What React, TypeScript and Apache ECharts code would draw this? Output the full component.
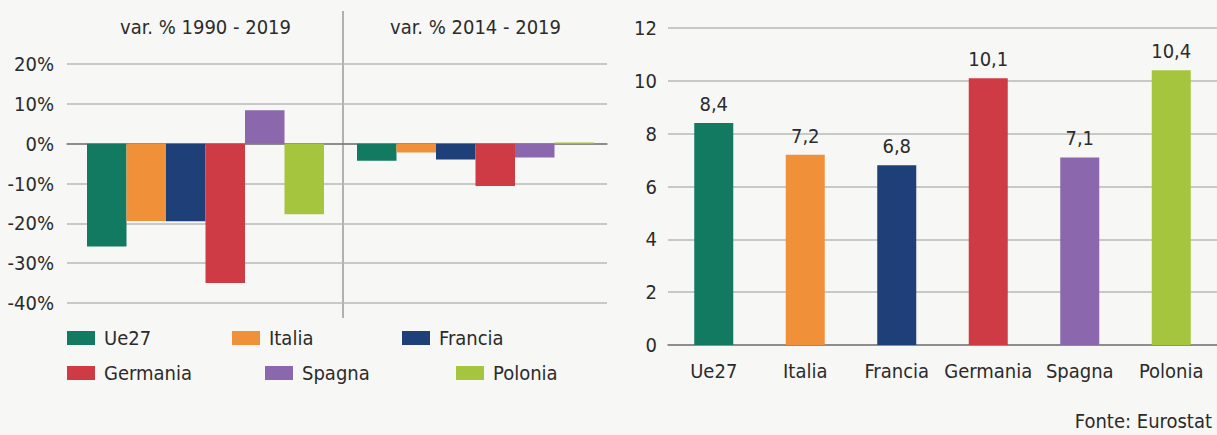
import React, { useEffect, useRef } from "react";
import * as echarts from "echarts";

const countries = ["Ue27", "Italia", "Francia", "Germania", "Spagna", "Polonia"];
const periods = ["var. % 1990 - 2019", "var. % 2014 - 2019"];
const var1990 = [-25.8, -19.4, -19.5, -35.0, 8.4, -17.7];
const var2014 = [-4.3, -2.2, -4.0, -10.6, -3.5, 0.3];
const rightValues = [8.4, 7.2, 6.8, 10.1, 7.1, 10.4];
const colors = ["#137a62", "#f0913a", "#1f3f78", "#cf3b45", "#8b67ad", "#a6c53f"];
const legendLeft = [67, 232, 402, 67, 265, 456];
const legendTop = [327, 327, 327, 362, 362, 362];
const sourceText = "Fonte: Eurostat";

const FONT = "'Liberation Sans Narrow', 'Arial Narrow', 'DejaVu Sans Condensed', sans-serif";
const FS = 20;
const TEXT = "#2b2b2b";
const GRID = "#b8b8b8";
const AXIS = "#7a7a7a";

export default function App() {
  const ref = useRef<HTMLDivElement>(null);
  useEffect(() => {
    if (!ref.current) return;
    const chart = echarts.init(ref.current, undefined, { renderer: "svg" });
    const leftY = (idx: number, showLabels: boolean) => ({
      type: "value",
      gridIndex: idx,
      min: -40,
      max: 20,
      interval: 10,
      axisLine: { show: false },
      axisTick: { show: false },
      axisLabel: {
        show: showLabels,
        formatter: (v: number) => `${v}%`,
        fontFamily: FONT,
        fontSize: FS,
        color: TEXT,
        margin: 13,
      },
      splitLine: { lineStyle: { color: GRID, width: 1.5 } },
    });
    const topX = (idx: number) => ({
      type: "category",
      gridIndex: idx,
      position: "top",
      data: [periods[idx]],
      axisLine: { show: false, onZero: false },
      axisTick: { show: false },
      axisLabel: { fontFamily: FONT, fontSize: FS, color: TEXT, margin: 27 },
      splitLine: { show: false },
    });
    const zeroX = (idx: number) => ({
      type: "category",
      gridIndex: idx,
      position: "bottom",
      data: [periods[idx]],
      axisLine: { show: true, onZero: true, lineStyle: { color: AXIS, width: 1.5 } },
      axisTick: { show: false },
      axisLabel: { show: false },
    });
    const series: any[] = [];
    countries.forEach((c, i) => {
      series.push({
        type: "bar",
        name: c,
        xAxisIndex: 0,
        yAxisIndex: 0,
        data: [var1990[i]],
        barWidth: 39.5,
        barGap: "0%",
        itemStyle: { color: colors[i] },
      });
    });
    countries.forEach((c, i) => {
      series.push({
        type: "bar",
        name: c,
        xAxisIndex: 2,
        yAxisIndex: 1,
        data: [var2014[i]],
        barWidth: 39.5,
        barGap: "0%",
        itemStyle: { color: colors[i] },
      });
    });
    series.push({
      type: "bar",
      name: "Valore",
      xAxisIndex: 4,
      yAxisIndex: 2,
      barWidth: 39,
      data: rightValues.map((v, i) => ({ value: v, itemStyle: { color: colors[i] } })),
      label: {
        show: true,
        position: "top",
        distance: 9,
        fontFamily: FONT,
        fontSize: FS,
        color: TEXT,
        formatter: (p: any) => String(p.value).replace(".", ","),
      },
    });

    chart.setOption({
      animation: false,
      backgroundColor: "#f7f7f5",
      textStyle: { fontFamily: FONT },
      grid: [
        { left: 67, top: 64, width: 277, height: 239 },
        { left: 344, top: 64, width: 263, height: 239 },
        { left: 668, top: 28, width: 551, height: 317 },
      ],
      xAxis: [
        topX(0),
        zeroX(0),
        topX(1),
        zeroX(1),
        {
          type: "category",
          gridIndex: 2,
          data: countries,
          axisLine: { show: true, lineStyle: { color: AXIS, width: 1.5 } },
          axisTick: { show: false },
          axisLabel: { fontFamily: FONT, fontSize: FS, color: TEXT, margin: 16, interval: 0 },
        },
      ],
      yAxis: [
        leftY(0, true),
        leftY(1, false),
        {
          type: "value",
          gridIndex: 2,
          min: 0,
          max: 12,
          interval: 2,
          axisLine: { show: false },
          axisTick: { show: false },
          axisLabel: { fontFamily: FONT, fontSize: FS, color: TEXT, margin: 11 },
          splitLine: { lineStyle: { color: GRID, width: 1.5 } },
        },
      ],
      legend: countries.map((c, i) => ({
        data: [c],
        left: legendLeft[i],
        top: legendTop[i],
        padding: 0,
        icon: "rect",
        itemWidth: 28,
        itemHeight: 14,
        selectedMode: false,
        textStyle: { fontFamily: FONT, fontSize: FS, color: TEXT, lineHeight: 22, padding: [0, 0, 0, 4] },
      })),
      graphic: [
        {
          type: "line",
          shape: { x1: 343, y1: 11, x2: 343, y2: 318 },
          style: { stroke: "#9a9a9a", lineWidth: 1.5 },
        },
        {
          type: "text",
          right: 5,
          top: 411,
          style: { text: sourceText, font: `${FS}px ${FONT}`, fill: TEXT },
        },
      ],
      series,
    });
    return () => chart.dispose();
  }, []);
  return (
    <div
      ref={ref}
      style={{ position: "absolute", left: 0, top: 0, width: 1217, height: 435 }}
    />
  );
}
